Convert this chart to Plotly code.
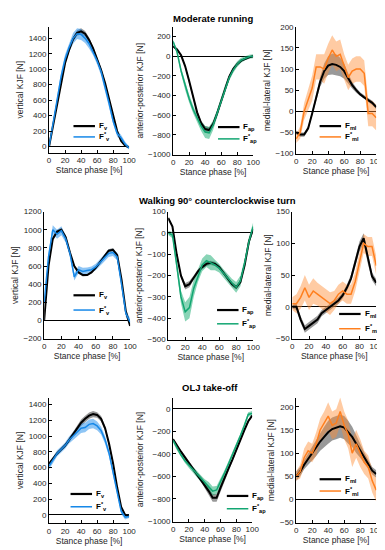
import plotly.graph_objects as go

W, H = 385, 550
stance = list(range(0, 101, 5))

row_titles = ["Moderate running", "Walking 90° counterclockwise turn", "OLJ take-off"]
y_titles = ["vertical KJF [N]", "anterior-posterior KJF [N]", "medial-lateral KJF [N]"]
comps = ["v", "ap", "ml"]

# ---- Moderate running ----
run_v_ref = [0, 280, 560, 850, 1080, 1250, 1390, 1470, 1490, 1460, 1380, 1270, 1140, 990, 820, 620, 400, 200, 70, 10, -10]
run_v_ref_sd = [5, 10, 15, 20, 25, 25, 30, 35, 40, 35, 30, 25, 25, 25, 25, 25, 20, 15, 10, 8, 5]
run_v_est = [0, 300, 600, 900, 1130, 1280, 1400, 1460, 1450, 1400, 1330, 1230, 1110, 970, 780, 560, 330, 170, 110, 30, -20]
run_v_est_sd = [10, 40, 50, 60, 60, 60, 70, 70, 70, 60, 60, 50, 50, 50, 50, 50, 40, 40, 40, 30, 20]

run_ap_ref = [100, 70, 10, -100, -250, -420, -570, -680, -740, -750, -690, -580, -450, -320, -210, -130, -80, -45, -25, -10, 0]
run_ap_ref_sd = [10, 10, 10, 15, 20, 20, 20, 25, 30, 30, 25, 20, 20, 15, 15, 10, 10, 10, 10, 5, 5]
run_ap_est = [150, 40, -150, -300, -430, -540, -630, -710, -770, -780, -700, -580, -440, -320, -220, -140, -80, -40, -20, -5, 0]
run_ap_est_sd = [20, 20, 30, 40, 40, 40, 40, 50, 60, 60, 50, 40, 30, 30, 30, 30, 30, 25, 20, 20, 20]

run_ml_ref = [-50, -55, -55, -40, -5, 35, 70, 95, 108, 112, 110, 105, 95, 78, 62, 50, 40, 33, 27, 20, 10]
run_ml_ref_sd = [5, 5, 5, 5, 5, 8, 12, 18, 22, 25, 25, 22, 18, 12, 8, 6, 5, 5, 5, 5, 5]
run_ml_est = [-65, -50, 0, 25, 55, 105, 105, 100, 125, 145, 130, 135, 105, 80, 95, 100, 100, 90, -5, -5, -15]
run_ml_est_sd = [10, 15, 20, 25, 30, 30, 30, 35, 35, 35, 35, 35, 30, 30, 30, 30, 30, 30, 30, 30, 30]

# ---- Walking 90° counterclockwise turn ----
turn_v_ref = [0, 600, 900, 980, 1000, 920, 750, 600, 530, 500, 500, 530, 580, 640, 710, 770, 780, 720, 450, 100, -60]
turn_v_ref_sd = [10, 20, 20, 20, 20, 20, 15, 15, 15, 15, 10, 10, 10, 10, 15, 15, 20, 20, 20, 15, 10]
turn_v_est = [200, 700, 1000, 950, 990, 900, 740, 480, 560, 540, 550, 560, 590, 640, 690, 740, 750, 700, 400, 80, -20]
turn_v_est_sd = [30, 40, 50, 50, 50, 40, 40, 40, 40, 40, 35, 35, 35, 35, 40, 40, 40, 40, 40, 40, 40]

turn_ap_ref = [70, 30, -100, -200, -250, -240, -210, -180, -160, -145, -140, -145, -160, -185, -210, -240, -255, -230, -150, -40, 20]
turn_ap_ref_sd = [5, 5, 10, 10, 15, 15, 10, 10, 10, 10, 10, 10, 10, 10, 10, 10, 10, 10, 10, 8, 5]
turn_ap_est = [0, -10, -150, -300, -370, -350, -260, -200, -150, -130, -140, -150, -165, -190, -210, -235, -255, -225, -140, -40, 30]
turn_ap_est_sd = [10, 15, 20, 30, 45, 50, 40, 30, 30, 30, 35, 25, 20, 20, 20, 20, 25, 25, 20, 20, 20]

turn_ml_ref = [0, 0, -20, -35, -30, -25, -20, -10, -5, 0, 5, 10, 18, 30, 45, 70, 95, 108, 75, 48, 38]
turn_ml_ref_sd = [3, 5, 5, 6, 6, 6, 6, 5, 5, 5, 5, 5, 5, 5, 6, 7, 8, 8, 7, 6, 6]
turn_ml_est = [5, 5, 15, 30, 15, 25, 20, 15, 10, 5, 10, 20, 25, 20, 20, 40, 70, 100, 95, 95, 65]
turn_ml_est_sd = [10, 15, 18, 20, 20, 20, 18, 18, 18, 18, 15, 15, 15, 15, 15, 15, 15, 15, 15, 15, 15]

# ---- OLJ take-off ----
olj_v_ref = [650, 720, 780, 830, 880, 950, 1020, 1100, 1170, 1220, 1260, 1280, 1270, 1220, 1100, 900, 650, 350, 100, 0, -20]
olj_v_ref_sd = [20, 20, 20, 20, 25, 25, 30, 35, 40, 40, 40, 40, 35, 35, 30, 30, 30, 25, 20, 15, 10]
olj_v_est = [620, 700, 780, 830, 880, 950, 1000, 1050, 1100, 1110, 1150, 1160, 1130, 1070, 950, 780, 550, 300, 50, -30, -20]
olj_v_est_sd = [40, 40, 40, 40, 40, 45, 50, 55, 60, 60, 60, 60, 55, 50, 50, 45, 40, 40, 40, 30, 20]

olj_ap_ref = [-270, -330, -380, -430, -480, -530, -580, -620, -670, -730, -790, -790, -700, -610, -530, -450, -360, -280, -190, -110, -60]
olj_ap_ref_sd = [10, 10, 10, 15, 15, 20, 20, 25, 30, 35, 35, 35, 30, 25, 20, 15, 15, 10, 10, 10, 10]
olj_ap_est = [-280, -350, -410, -460, -500, -540, -580, -620, -660, -690, -730, -720, -650, -570, -490, -410, -320, -240, -150, -50, -40]
olj_ap_est_sd = [20, 20, 20, 20, 25, 25, 30, 30, 35, 40, 40, 35, 30, 25, 25, 20, 20, 20, 20, 20, 20]

olj_ml_ref = [50, 60, 75, 88, 100, 112, 125, 135, 145, 152, 155, 158, 155, 145, 135, 120, 105, 90, 75, 62, 55]
olj_ml_ref_sd = [10, 10, 10, 12, 15, 18, 20, 22, 25, 25, 25, 25, 25, 25, 22, 20, 15, 12, 10, 8, 8]
olj_ml_est = [50, 60, 90, 105, 100, 120, 150, 165, 180, 160, 165, 190, 160, 140, 100, 120, 100, 80, 70, 40, 20]
olj_ml_est_sd = [10, 15, 20, 20, 20, 25, 25, 25, 30, 30, 30, 30, 30, 30, 30, 30, 30, 25, 25, 25, 25]

panels = [
    (run_v_ref, run_v_ref_sd, run_v_est, run_v_est_sd),
    (run_ap_ref, run_ap_ref_sd, run_ap_est, run_ap_est_sd),
    (run_ml_ref, run_ml_ref_sd, run_ml_est, run_ml_est_sd),
    (turn_v_ref, turn_v_ref_sd, turn_v_est, turn_v_est_sd),
    (turn_ap_ref, turn_ap_ref_sd, turn_ap_est, turn_ap_est_sd),
    (turn_ml_ref, turn_ml_ref_sd, turn_ml_est, turn_ml_est_sd),
    (olj_v_ref, olj_v_ref_sd, olj_v_est, olj_v_est_sd),
    (olj_ap_ref, olj_ap_ref_sd, olj_ap_est, olj_ap_est_sd),
    (olj_ml_ref, olj_ml_ref_sd, olj_ml_est, olj_ml_est_sd),
]

y_ranges = [[-80, 1550], [-1000, 300], [-100, 200],
            [-200, 1200], [-500, 100], [-50, 150],
            [-110, 1490], [-1000, 100], [-50, 220]]
y_ticks = [list(range(0, 1401, 200)), list(range(-1000, 201, 200)), list(range(-100, 201, 50)),
           list(range(-200, 1201, 200)), list(range(-500, 101, 100)), list(range(-50, 151, 50)),
           list(range(0, 1401, 200)), list(range(-1000, 1, 200)), list(range(-50, 201, 50))]

# plot boxes in pixels: x0, x1, ytop, ybottom
boxes = [(40, 122, 15, 143), (167, 249, 15, 145), (293, 375, 15, 144),
         (35, 123, 203, 332), (162, 249, 203, 333), (289, 375, 203, 332),
         (40, 122, 392, 520), (167, 248, 392, 518), (293, 375, 392, 519)]
# legend positions: x of sample start, y of first row, y of second row
legpos = [(65, 116, 127), (213, 117, 129), (317, 116, 127),
          (65, 288, 303), (212, 303, 317), (337, 307, 322),
          (62, 490, 503), (222, 492, 505), (317, 475, 487)]

col_line = ["#1688e8", "#12a672", "#ff7f1e"]
col_band = ["rgba(30,140,235,0.50)", "rgba(20,170,110,0.50)", "rgba(255,140,50,0.45)"]
black_band = "rgba(70,70,70,0.55)"

FONT = "Liberation Sans, Arial, sans-serif"

def px_x(p):
    return p / W

def px_y(p):
    return 1 - p / H

def band(x, m, s):
    up = [a + b for a, b in zip(m, s)]
    lo = [a - b for a, b in zip(m, s)]
    return x + x[::-1], up + lo[::-1]

fig = go.Figure()
shapes = []
annotations = []

for i, (ref, ref_sd, est, est_sd) in enumerate(panels):
    n = i + 1
    xa = "x" if n == 1 else f"x{n}"
    ya = "y" if n == 1 else f"y{n}"
    c = i % 3
    bx, by = band(stance, ref, ref_sd)
    fig.add_trace(go.Scatter(x=bx, y=by, fill="toself", fillcolor=black_band, line=dict(width=0),
                             mode="lines", hoverinfo="skip", showlegend=False, xaxis=xa, yaxis=ya))
    bx, by = band(stance, est, est_sd)
    fig.add_trace(go.Scatter(x=bx, y=by, fill="toself", fillcolor=col_band[c], line=dict(width=0),
                             mode="lines", hoverinfo="skip", showlegend=False, xaxis=xa, yaxis=ya))
    fig.add_trace(go.Scatter(x=stance, y=ref, mode="lines", line=dict(color="black", width=2.0),
                             showlegend=False, xaxis=xa, yaxis=ya))
    fig.add_trace(go.Scatter(x=stance, y=est, mode="lines", line=dict(color=col_line[c], width=1.5),
                             showlegend=False, xaxis=xa, yaxis=ya))

    x0, x1, yt, yb = boxes[i]
    axis_common = dict(showline=True, linecolor="black", linewidth=1, ticks="inside", ticklen=3,
                       tickcolor="black", showgrid=False, tickfont=dict(size=8, color="#262626", family=FONT))
    fig.layout[f"xaxis{'' if n == 1 else n}"] = dict(
        domain=[px_x(x0), px_x(x1)], range=[0, 100], anchor=ya, tickvals=list(range(0, 101, 20)),
        zeroline=False, title=dict(text="Stance phase [%]", font=dict(size=8.5, family=FONT, color="#262626"), standoff=2),
        **axis_common)
    fig.layout[f"yaxis{'' if n == 1 else n}"] = dict(
        domain=[px_y(yb), px_y(yt)], range=y_ranges[i], anchor=xa, tickvals=y_ticks[i],
        zeroline=True, zerolinecolor="black", zerolinewidth=1.2,
        title=dict(text=y_titles[c], font=dict(size=8.5, family=FONT, color="#262626"), standoff=3),
        **axis_common)

    lx, ly1, ly2 = legpos[i]
    shapes.append(dict(type="line", xref="paper", yref="paper", x0=px_x(lx), x1=px_x(lx + 22),
                       y0=px_y(ly1), y1=px_y(ly1), line=dict(color="black", width=2.2)))
    shapes.append(dict(type="line", xref="paper", yref="paper", x0=px_x(lx), x1=px_x(lx + 22),
                       y0=px_y(ly2), y1=px_y(ly2), line=dict(color=col_line[c], width=1.5)))
    annotations.append(dict(xref="paper", yref="paper", x=px_x(lx + 24), y=px_y(ly1), xanchor="left",
                            yanchor="middle", showarrow=False, text=f"<b>F<sub>{comps[c]}</sub></b>",
                            font=dict(size=8, color="black", family=FONT)))
    annotations.append(dict(xref="paper", yref="paper", x=px_x(lx + 24), y=px_y(ly2), xanchor="left",
                            yanchor="middle", showarrow=False, text=f"<b>F<sup>*</sup><sub>{comps[c]}</sub></b>",
                            font=dict(size=8, color="black", family=FONT)))

title_pos = [(208, 7), (212, 192), (205, 382)]
for t, (tx, ty) in zip(row_titles, title_pos):
    annotations.append(dict(xref="paper", yref="paper", x=px_x(tx), y=px_y(ty), xanchor="center",
                            yanchor="middle", showarrow=False, text=f"<b>{t}</b>",
                            font=dict(size=9.5, color="black", family=FONT)))

fig.update_layout(width=W, height=H, margin=dict(l=0, r=0, t=0, b=0), paper_bgcolor="white",
                  plot_bgcolor="white", showlegend=False, shapes=shapes, annotations=annotations,
                  font=dict(family=FONT))

fig.write_html("out.html")
